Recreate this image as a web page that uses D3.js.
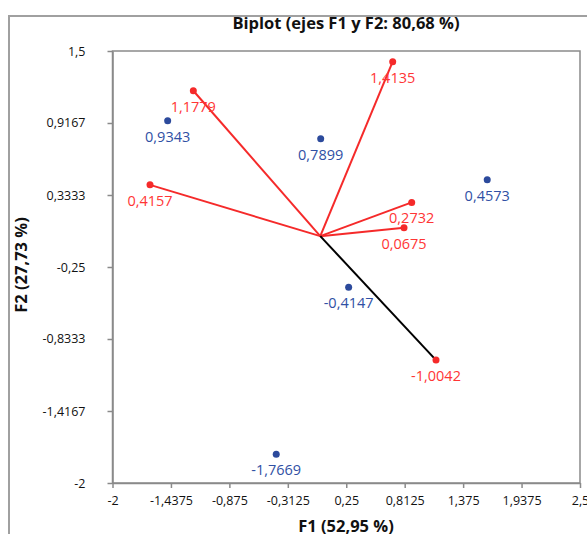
<!DOCTYPE html>
<html>
<head>
<meta charset="utf-8">
<script src="https://cdn.jsdelivr.net/npm/d3@7"></script>
<style>
body { margin: 0; background: #fff; }
text { font-family: "Open Sans", sans-serif; }
.tick text { font-size: 12.5px; fill: #111; }
.tick line { stroke: #8a8a8a; stroke-width: 1.5; }
.label { font-size: 14.5px; }
</style>
</head>
<body>
<svg width="587" height="534"></svg>
<script>
// tick values from the picture
var xTicks = [-2, -1.4375, -0.875, -0.3125, 0.25, 0.8125, 1.375, 1.9375, 2.5];
var yTicks = [1.5, 0.9167, 0.3333, -0.25, -0.8333, -1.4167, -2];

var vectorX = [-1.222, 0.697, -1.639, 0.880, 0.806, 1.114];
var vectorY = [1.1779, 1.4135, 0.4157, 0.2732, 0.0675, -1.0042];
var pointX = [-1.469, 0.004, 1.607, 0.273, -0.424];
var pointY = [0.9343, 0.7899, 0.4573, -0.4147, -1.7669];

var vectors = vectorX.map(function(x, i) { return {x: x, y: vectorY[i]}; });
var points = pointX.map(function(x, i) { return {x: x, y: pointY[i]}; });

var red = "#f52a2a";
var blue = "#2c4a9c";

var svg = d3.select("svg");

// outer frame
svg.append("line").attr("x1", 8).attr("y1", 16).attr("x2", 587).attr("y2", 16)
   .style("stroke", "#a0a0a0").style("stroke-width", 2);
svg.append("line").attr("x1", 9).attr("y1", 15).attr("x2", 9).attr("y2", 534)
   .style("stroke", "#a0a0a0").style("stroke-width", 2);

var xScale = d3.scaleLinear().domain([-2, 2.5]).range([112.5, 580]);
var yScale = d3.scaleLinear().domain([-2, 1.5]).range([483, 51]);

var comma = function(d) { return String(d).replace(".", ","); };
var fmt4 = function(d) { return d3.format(".4f")(d).replace("−", "-").replace(".", ","); };

svg.append("rect")
   .attr("x", xScale(-2))
   .attr("y", yScale(1.5))
   .attr("width", xScale(2.5) - xScale(-2))
   .attr("height", yScale(-2) - yScale(1.5))
   .style("fill", "none")
   .style("stroke", "#8a8a8a")
   .style("stroke-width", 1.5);

var xAxis = svg.append("g")
   .attr("transform", "translate(0," + yScale(-2) + ")")
   .call(d3.axisBottom(xScale).tickValues(xTicks).tickFormat(comma)
         .tickSize(5).tickSizeOuter(0).tickPadding(8));
xAxis.select(".domain").style("stroke", "#8a8a8a").style("stroke-width", 1.5);

var yAxis = svg.append("g")
   .attr("transform", "translate(" + xScale(-2) + ",0)")
   .call(d3.axisLeft(yScale).tickValues(yTicks).tickFormat(comma)
         .tickSize(5).tickSizeOuter(0).tickPadding(22));
yAxis.select(".domain").style("stroke", "#8a8a8a").style("stroke-width", 1.5);

// vectors from the origin
svg.selectAll(".vec")
   .data(vectors)
   .enter()
   .append("line")
   .attr("class", "vec")
   .attr("x1", xScale(0))
   .attr("y1", yScale(0))
   .attr("x2", function(d) { return xScale(d.x); })
   .attr("y2", function(d) { return yScale(d.y); })
   .style("stroke", function(d) { return d.y < 0 ? "#000" : red; })
   .style("stroke-width", 2);

svg.selectAll(".vdot")
   .data(vectors)
   .enter()
   .append("circle")
   .attr("class", "vdot")
   .attr("cx", function(d) { return xScale(d.x); })
   .attr("cy", function(d) { return yScale(d.y); })
   .attr("r", 3.5)
   .style("fill", red);

svg.selectAll(".vlab")
   .data(vectors)
   .enter()
   .append("text")
   .attr("class", "label")
   .attr("x", function(d) { return xScale(d.x); })
   .attr("y", function(d) { return yScale(d.y) + 21; })
   .attr("text-anchor", "middle")
   .style("fill", "#ff3535")
   .text(function(d) { return fmt4(d.y); });

svg.selectAll(".pdot")
   .data(points)
   .enter()
   .append("circle")
   .attr("class", "pdot")
   .attr("cx", function(d) { return xScale(d.x); })
   .attr("cy", function(d) { return yScale(d.y); })
   .attr("r", 3.5)
   .style("fill", blue);

svg.selectAll(".plab")
   .data(points)
   .enter()
   .append("text")
   .attr("class", "label")
   .attr("x", function(d) { return xScale(d.x); })
   .attr("y", function(d) { return yScale(d.y) + 21; })
   .attr("text-anchor", "middle")
   .style("fill", "#3050a4")
   .text(function(d) { return fmt4(d.y); });

// titles
svg.append("text")
   .attr("x", 346)
   .attr("y", 29)
   .attr("text-anchor", "middle")
   .style("font-size", "16.5px")
   .style("font-weight", "bold")
   .style("fill", "#111")
   .text("Biplot (ejes F1 y F2: 80,68 %)");

svg.append("text")
   .attr("x", 346)
   .attr("y", 532)
   .attr("text-anchor", "middle")
   .style("font-size", "16.5px")
   .style("font-weight", "bold")
   .style("fill", "#111")
   .text("F1 (52,95 %)");

svg.append("text")
   .attr("transform", "translate(27,265) rotate(-90)")
   .attr("text-anchor", "middle")
   .style("font-size", "16.5px")
   .style("font-weight", "bold")
   .style("fill", "#111")
   .text("F2 (27,73 %)");
</script>
</body>
</html>
